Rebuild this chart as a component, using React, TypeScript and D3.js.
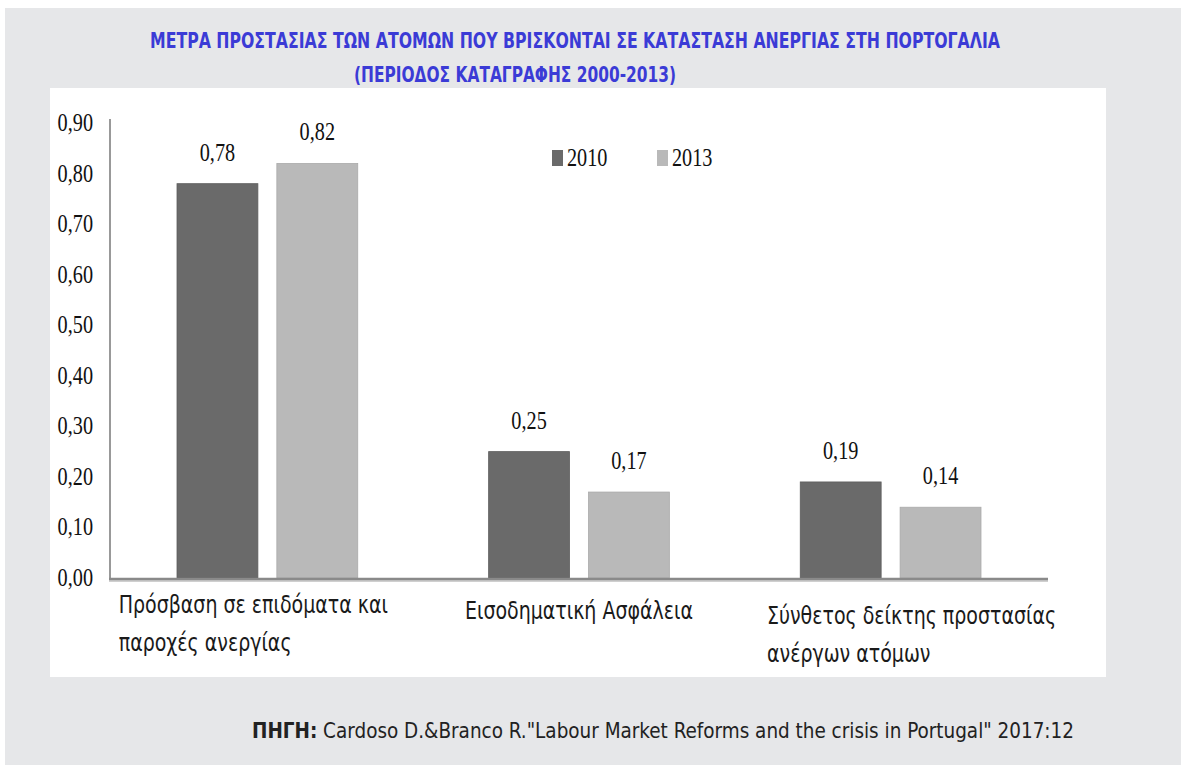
import React, { useEffect, useRef } from "react";
import * as d3 from "d3";

// data
const categories = [
  ["Πρόσβαση σε επιδόματα και", "παροχές ανεργίας"],
  ["Εισοδηματική Ασφάλεια"],
  ["Σύνθετος δείκτης προστασίας", "ανέργων ατόμων"],
];
const seriesNames = ["2010", "2013"];
const values2010 = [0.78, 0.25, 0.19];
const values2013 = [0.82, 0.17, 0.14];
const yTicks = [0, 0.1, 0.2, 0.3, 0.4, 0.5, 0.6, 0.7, 0.8, 0.9];

const TITLE_1 = "ΜΕΤΡΑ ΠΡΟΣΤΑΣΙΑΣ ΤΩΝ ΑΤΟΜΩΝ ΠΟΥ ΒΡΙΣΚΟΝΤΑΙ ΣΕ ΚΑΤΑΣΤΑΣΗ ΑΝΕΡΓΙΑΣ ΣΤΗ ΠΟΡΤΟΓΑΛΙΑ";
const TITLE_2 = "(ΠΕΡΙΟΔΟΣ ΚΑΤΑΓΡΑΦΗΣ 2000-2013)";
const SOURCE_B = "ΠΗΓΗ:";
const SOURCE = ' Cardoso D.&Branco R."Labour Market Reforms and the crisis in Portugal" 2017:12';

const W = 1181;
const H = 765;
const COLORS = ["#6a6a6a", "#b9b9b9"];
const SANS = "'Liberation Sans Narrow', 'DejaVu Sans Condensed', 'Noto Sans', sans-serif";
const SERIF = "'Liberation Serif', 'DejaVu Serif', serif";
const SQUEEZE = 0.88; // the original fonts are narrower than what we have
// the category labels in the original sit a little off their groups
const LABEL_DX = [-14, 0, 21];
const LABEL_DY = [0, 6, 11];

const fmt = (v: number) => v.toFixed(2).replace(".", ",");

export default function App() {
  const ref = useRef<SVGSVGElement>(null);

  useEffect(() => {
    document.body.style.margin = "0";
    const svg = d3.select(ref.current);
    svg.selectAll("*").remove();

    // page background
    svg.append("rect").attr("width", W).attr("height", H).attr("fill", "#fff");
    svg.append("rect").attr("x", 5).attr("y", 8).attr("width", W - 5).attr("height", H - 8).attr("fill", "#e6e7e9");
    svg.append("rect").attr("x", 50).attr("y", 88).attr("width", 1056).attr("height", 589).attr("fill", "#fff");

    // title
    svg.append("text").attr("x", 150).attr("y", 48).attr("fill", "#3b3bd6")
      .attr("font-family", SANS).attr("font-weight", "bold").attr("font-size", 21)
      .attr("textLength", 850).attr("lengthAdjust", "spacingAndGlyphs").text(TITLE_1);
    svg.append("text").attr("x", 354).attr("y", 82).attr("fill", "#3b3bd6")
      .attr("font-family", SANS).attr("font-weight", "bold").attr("font-size", 21)
      .attr("textLength", 322).attr("lengthAdjust", "spacingAndGlyphs").text(TITLE_2);

    const x0 = d3.scaleBand<number>().domain(d3.range(categories.length)).range([110, 1048]).paddingInner(0.42).paddingOuter(0.215);
    const x1 = d3.scaleBand<number>().domain([0, 1]).range([0, x0.bandwidth()]).paddingInner(0.19);
    const y = d3.scaleLinear().domain([0, 0.9]).range([578, 123]);

    // y tick labels
    svg.append("g").selectAll("text").data(yTicks).join("text")
      .attr("transform", d => `translate(93,${y(d) + 8}) scale(${SQUEEZE},1.05)`)
      .attr("text-anchor", "end")
      .attr("font-family", SERIF).attr("font-size", 23).attr("fill", "#111")
      .text(d => fmt(d));

    // bars
    const series = [values2010, values2013];
    series.forEach((vals, s) => {
      svg.append("g").selectAll("rect").data(vals).join("rect")
        .attr("x", (_, i) => (x0(i) ?? 0) + (x1(s) ?? 0))
        .attr("y", d => y(d))
        .attr("width", x1.bandwidth())
        .attr("height", d => y(0) - y(d))
        .attr("fill", COLORS[s])
        .attr("stroke", s === 0 ? "#5e5e5e" : "#aaa").attr("stroke-width", 0.8);
      svg.append("g").selectAll("text").data(vals).join("text")
        .attr("transform", (d, i) => `translate(${(x0(i) ?? 0) + (x1(s) ?? 0) + x1.bandwidth() / 2},${y(d) - 23}) scale(${SQUEEZE},1.05)`)
        .attr("text-anchor", "middle")
        .attr("font-family", SERIF).attr("font-size", 23).attr("fill", "#111")
        .text(d => fmt(d));
    });

    // axes lines
    svg.append("line").attr("x1", 110).attr("x2", 110).attr("y1", 119).attr("y2", y(0))
      .attr("stroke", "#999").attr("stroke-width", 2);
    svg.append("line").attr("x1", 109).attr("x2", 1048).attr("y1", y(0) + 3).attr("y2", y(0) + 3)
      .attr("stroke", "#cfcfcf").attr("stroke-width", 2);
    svg.append("line").attr("x1", 109).attr("x2", 1048).attr("y1", y(0) + 1).attr("y2", y(0) + 1)
      .attr("stroke", "#8a8a8a").attr("stroke-width", 2.5);

    // category labels: left-aligned block under each group
    categories.forEach((lines, i) => {
      const cx = (x0(i) ?? 0) + x0.bandwidth() / 2 + LABEL_DX[i];
      const g = svg.append("g");
      const t = g.selectAll("text").data(lines).join("text")
        .attr("y", (_, k) => 613 + LABEL_DY[i] + k * 38)
        .attr("font-family", SANS).attr("font-size", 24).attr("fill", "#1a1a1a")
        .text(d => d);
      let maxW = 0;
      t.each(function () { maxW = Math.max(maxW, (this as SVGTextElement).getComputedTextLength()); });
      g.attr("transform", `translate(${cx - (maxW * SQUEEZE) / 2},0) scale(${SQUEEZE},1)`);
    });

    // legend
    const legend = svg.append("g").selectAll("g").data(seriesNames).join("g")
      .attr("transform", (_, i) => `translate(${552 + i * 105},150)`);
    legend.append("rect").attr("width", 11).attr("height", 16).attr("fill", (_, i) => COLORS[i]);
    legend.append("text").attr("transform", `translate(15,16) scale(${SQUEEZE},1.05)`)
      .attr("font-family", SERIF).attr("font-size", 23).attr("fill", "#111").text(d => d);

    // source
    const src = svg.append("text").attr("transform", "translate(252,738) scale(0.93,1)")
      .attr("font-family", SANS).attr("font-size", 22).attr("fill", "#222");
    src.append("tspan").attr("font-weight", "bold").text(SOURCE_B);
    src.append("tspan").text(SOURCE);
  }, []);

  return <svg ref={ref} width={W} height={H} style={{ display: "block" }} />;
}
